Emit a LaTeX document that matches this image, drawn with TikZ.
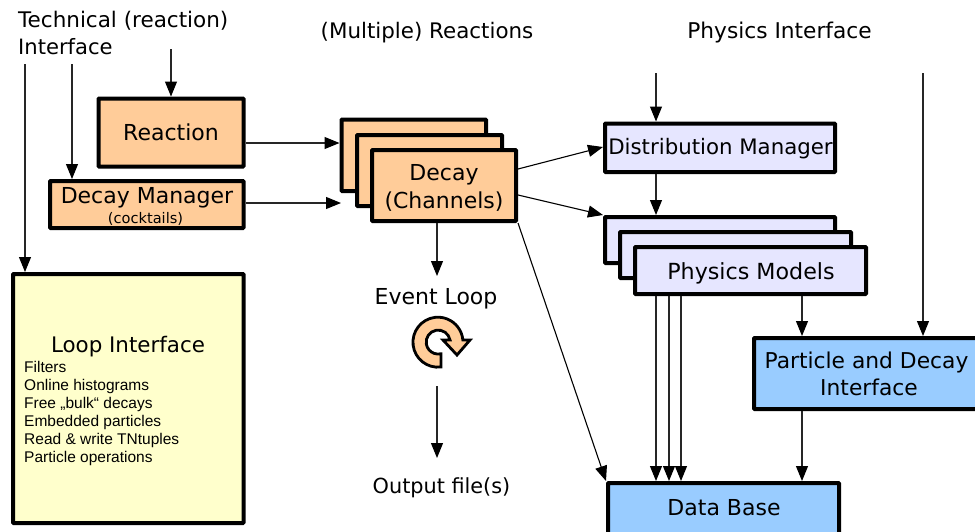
\documentclass[tikz,border=0pt]{standalone}
\usepackage{fontspec}
\setmainfont{DejaVu Sans}
\newfontfamily\listfont{Liberation Sans}
\usetikzlibrary{arrows.meta}
\newcommand{\fs}[1]{\fontsize{#1}{#1}\selectfont}
\definecolor{orangebox}{HTML}{FFCC99}
\definecolor{lilacbox}{HTML}{E6E6FF}
\definecolor{bluebox}{HTML}{99CCFF}
\definecolor{yellowbox}{HTML}{FFFFCC}
\tikzset{
  x=1pt,y=-1pt,
  boxbase/.style={draw=black,line width=4pt,rounded corners=0.8pt,inner sep=0pt,outer sep=2pt,align=center,font=\fs{22}},
  orbox/.style={boxbase,fill=orangebox},
  libox/.style={boxbase,fill=lilacbox},
  blbox/.style={boxbase,fill=bluebox},
  ylbox/.style={boxbase,fill=yellowbox},
  lbl/.style={font=\fs{22},inner sep=0pt,align=left},
  arr/.style={draw=black!85,line width=1.1pt,-{Triangle[length=15pt,width=12pt,color=black]}},
}
\newcommand{\pbox}[6]{% style,name,x1,y1,x2,y2
  \node[#1,minimum width=#5-#3,minimum height=#6-#4] (#2) at ({(#3+#5)/2},{(#4+#6)/2}) {};}
\begin{document}
\begin{tikzpicture}
\useasboundingbox (0,0) rectangle (975,531);
\node[lbl,font=\fs{21.5},anchor=base west] (ttech) at (18,27) {Technical (reaction)};
\node[lbl,font=\fs{21.1},anchor=base west] (tint) at (18,54) {Interface};
\node[lbl,font=\fs{21.4},anchor=base] (tmult) at (427,38) {(Multiple) Reactions};
\node[lbl,font=\fs{21.7},anchor=base] (tphys) at (779.500,38) {Physics Interface};
\pbox{orbox}{rea}{98.500}{98.500}{243.500}{166.500}
\node[font=\fs{22},inner sep=0pt,anchor=base] (reat) at (171,140) {Reaction};
\pbox{orbox}{dm}{50}{181}{243.500}{228}
\node[font=\fs{22},inner sep=0pt,anchor=base] (dmt) at (147,203) {Decay Manager};
\node[font=\fs{14.600},inner sep=0pt,anchor=base] (dms) at (145.500,223) {(cocktails)};
\pbox{orbox}{d1}{341.500}{119.500}{486}{191}
\pbox{orbox}{d2}{357}{135}{502}{206}
\pbox{orbox}{d3}{372}{150}{516}{221}
\node[font=\fs{22},inner sep=0pt,anchor=base] (d3a) at (444,180) {Decay};
\node[font=\fs{22},inner sep=0pt,anchor=base] (d3b) at (444,208) {(Channels)};
\pbox{libox}{dist}{605}{123.500}{835}{172}
\node[font=\fs{21.300},inner sep=0pt,anchor=base] (distt) at (720.500,154.500) {Distribution Manager};
\pbox{libox}{p1}{605}{217}{835}{263}
\pbox{libox}{p2}{620}{232}{851}{278}
\pbox{libox}{p3}{635}{247}{866}{294}
\node[font=\fs{22.200},inner sep=0pt,anchor=base] (p3t) at (751,279) {Physics Models};
\pbox{blbox}{pdi}{754}{338}{990}{409}
\node[font=\fs{21.800},inner sep=0pt,anchor=base] (pdia) at (866.500,368.500) {Particle and Decay};
\node[font=\fs{21.800},inner sep=0pt,anchor=base] (pdib) at (869,395.500) {Interface};
\pbox{blbox}{db}{608}{483}{839}{545}
\node[font=\fs{22},inner sep=0pt,anchor=base] (dbt) at (724,515) {Data Base};
\pbox{ylbox}{lp}{13}{274}{243.500}{523}
\node[font=\fs{21.400},inner sep=0pt,anchor=base] (lpt) at (128,352.500) {Loop Interface};
\node[font=\listfont\fontsize{15.5}{18}\selectfont,inner sep=0pt,anchor=base west,align=left] (lpl) at (24,462) {Filters\\Online histograms\\Free „bulk“ decays\\Embedded particles\\Read \& write TNtuples\\Particle operations};
\node[lbl,anchor=base] (ev) at (436,304) {Event Loop};
\node[lbl,font=\fs{20.800},anchor=base] (out) at (441.500,493) {Output file(s)};
% loop icon
\begin{scope}[shift={(438,342)},x=1pt,y=1pt]
\draw[line width=2.8pt,fill=orangebox,line join=miter] (3,-25)
  arc[start angle=-83,end angle=-355,radius=25] -- (32,2) -- (19,-13) -- (5,2) -- (12,2)
  arc[start angle=10,end angle=283,radius=12] -- cycle;
\end{scope}
% free ends
\coordinate (a) at (171,49);
\coordinate (b) at (72,64);
\coordinate (c) at (25,64);
\coordinate (e) at (656,73);
\coordinate (f) at (923,73);
\coordinate (g) at (437,386);
\coordinate (h) at (341,203);
\coordinate (i) at (437,276);
\coordinate (j) at (437,458);
\draw[arr] (a) -- (a |- rea.north);
\draw[arr] (b) -- (b |- dm.north);
\draw[arr] (c) -- (c |- lp.north);
\draw[arr] (rea.east |- 0,143) -- (d1.west |- 0,143);
\draw[arr] (dm.east |- 0,203) -- (h);
\draw[arr,draw=black] (d3.east |- 0,169) -- (dist.west |- 0,147);
\draw[arr,draw=black] (d3.east |- 0,195) -- (p1.north west);
\draw[arr,draw=black] (d3.south east) -- (db.north west);
\draw[arr] (d3.south -| i) -- (i);
\draw[arr] (g) -- (j);
\draw[arr] (e) -- (e |- dist.north);
\draw[arr] (e |- dist.south) -- (e |- p1.north);
\draw[arr] (e |- p3.south) -- (e |- db.north);
\coordinate (k) at (669,300);
\coordinate (l) at (681,300);
\coordinate (m) at (802,300);
\draw[arr] (k |- p3.south) -- (k |- db.north);
\draw[arr] (l |- p3.south) -- (l |- db.north);
\draw[arr] (m |- p3.south) -- (m |- pdi.north);
\draw[arr] (f) -- (f |- pdi.north);
\draw[arr] (m |- pdi.south) -- (m |- db.north);
\end{tikzpicture}
\end{document}
